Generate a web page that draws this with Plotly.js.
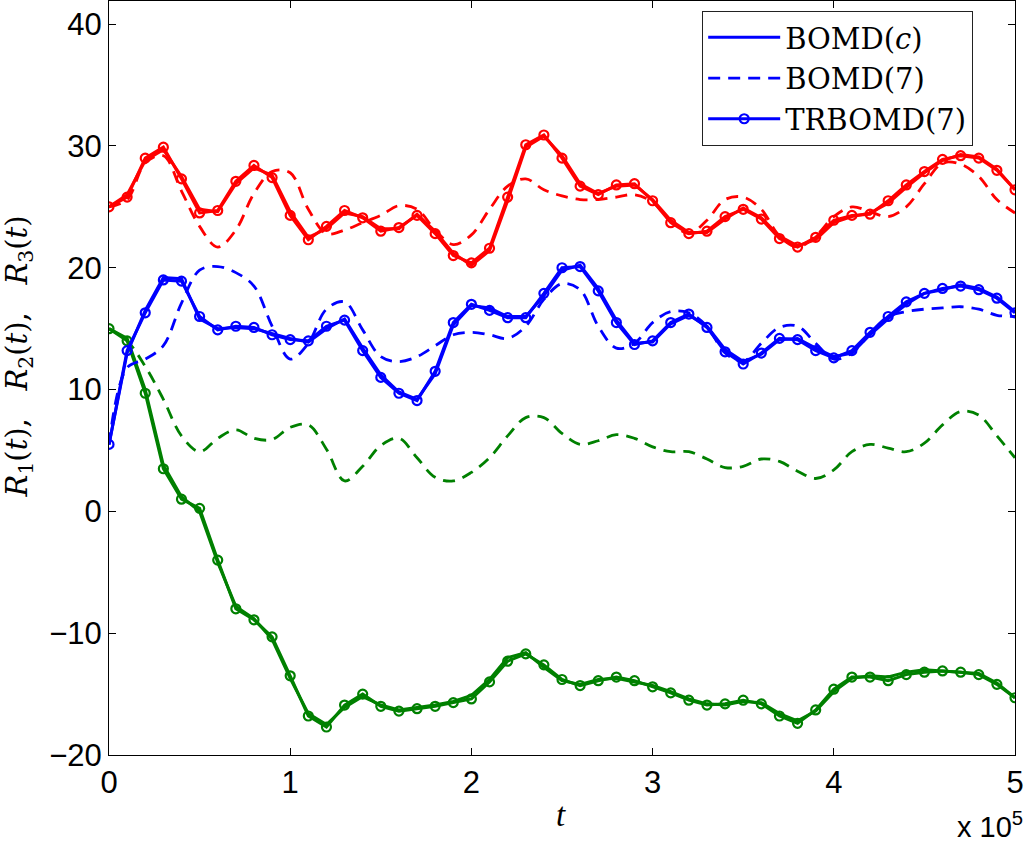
<!DOCTYPE html>
<html>
<head>
<meta charset="utf-8">
<script src="https://cdn.plot.ly/plotly-3.0.1.min.js"></script>
<style>html,body{margin:0;padding:0;background:#fff;}#chart{width:1024px;height:846px;}</style>
</head>
<body>
<div id="chart"></div>
<script>
// time in units of 10^5
const t = [0.0,0.1,0.2,0.3,0.4,0.5,0.6,0.7,0.8,0.9,1.0,1.1,1.2,1.3,1.4,1.5,1.6,1.7,1.8,1.9,2.0,2.1,2.2,2.3,2.4,2.5,2.6,2.7,2.8,2.9,3.0,3.1,3.2,3.3,3.4,3.5,3.6,3.7,3.8,3.9,4.0,4.1,4.2,4.3,4.4,4.5,4.6,4.7,4.8,4.9,5.0];

// R1 (red)
const r1_bomdc = [25.0,26.0,28.8,29.7,27.5,24.8,24.6,26.9,28.2,27.6,24.6,22.5,23.2,24.5,24.2,23.2,23.2,24.4,23.0,21.2,20.2,21.4,25.5,29.9,30.8,29.2,26.9,26.1,26.7,26.8,25.6,23.9,22.9,22.9,24.0,24.9,24.1,22.6,21.8,22.3,23.7,24.2,24.5,25.3,26.6,27.8,28.8,29.3,29.1,28.1,26.4];
const r1_bomd7 = [25.0,25.6,28.6,29.2,26.3,23.4,21.7,23.1,26.1,27.9,27.8,24.8,22.8,23.1,23.7,24.3,25.1,24.8,23.1,21.9,22.7,24.8,26.7,27.3,26.4,25.9,25.6,25.6,25.8,26.0,25.4,23.8,22.8,23.9,25.6,25.8,24.8,22.6,21.7,22.6,24.2,25.0,24.6,24.2,25.0,26.9,28.6,28.5,27.5,25.6,24.5];
const r1_trbomd7 = [25.0,25.8,29.0,29.9,27.3,24.5,24.7,27.1,28.4,27.4,24.3,22.3,23.4,24.7,24.1,23.0,23.3,24.3,22.8,21.0,20.4,21.6,25.8,30.1,30.9,29.0,26.7,26.0,26.8,26.9,25.5,23.7,22.8,23.0,24.2,24.8,24.0,22.4,21.7,22.5,23.9,24.3,24.4,25.5,26.8,27.9,28.9,29.2,29.0,28.0,26.4];

// R2 (blue)
const r2_bomdc = [5.5,13.0,16.5,19.2,19.1,15.8,15.0,15.1,15.0,14.6,14.2,13.9,15.0,15.8,13.4,11.2,9.8,9.2,11.3,15.3,16.9,16.7,16.0,16.0,17.7,19.8,20.2,18.3,15.7,13.8,13.9,15.4,16.1,15.2,13.3,12.3,12.9,14.1,14.2,13.4,12.7,13.0,14.5,15.8,17.0,17.9,18.2,18.6,18.3,17.6,16.4];
const r2_bomd7 = [5.5,11.8,12.5,13.6,17.1,19.8,20.1,19.6,18.5,15.2,12.5,13.8,16.6,17.2,14.9,12.7,12.3,12.7,13.6,14.5,14.7,14.5,14.2,15.2,17.4,18.7,18.2,15.2,13.4,13.8,15.5,16.4,16.3,15.2,13.0,12.3,13.8,15.1,15.2,13.8,12.5,13.0,14.6,16.0,16.4,16.6,16.7,16.8,16.6,16.1,16.0];
const r2_trbomd7 = [5.5,13.2,16.3,19.0,18.9,16.0,14.9,15.2,15.1,14.5,14.1,14.0,15.2,15.7,13.2,11.0,9.7,9.1,11.5,15.5,17.0,16.5,15.9,15.9,17.9,20.0,20.1,18.1,15.5,13.7,14.0,15.5,16.2,15.1,13.1,12.1,13.0,14.2,14.1,13.2,12.6,13.2,14.7,16.0,17.2,17.9,18.3,18.5,18.2,17.5,16.3];

// R3 (green)
const r3_bomdc = [15.0,14.2,10.0,3.8,1.2,0.0,-4.2,-7.8,-8.8,-10.5,-13.7,-16.6,-17.5,-16.1,-15.2,-15.9,-16.3,-16.1,-15.9,-15.6,-15.1,-13.8,-12.0,-11.6,-12.8,-13.9,-14.2,-13.8,-13.7,-14.0,-14.3,-14.8,-15.4,-15.8,-15.9,-15.6,-15.7,-16.6,-17.2,-16.4,-14.8,-13.7,-13.5,-13.6,-13.2,-13.0,-13.1,-13.2,-13.3,-14.1,-15.3];
const r3_bomd7 = [15.0,14.0,11.9,9.2,6.2,4.9,6.0,6.7,6.0,5.9,6.9,7.1,5.1,2.5,3.7,5.4,6.0,4.4,2.8,2.5,3.2,4.4,6.2,7.7,7.7,6.4,5.5,5.8,6.3,6.0,5.3,4.9,4.9,4.3,3.6,3.7,4.3,4.1,3.3,2.7,3.4,4.9,5.5,5.2,4.9,5.6,7.1,8.2,7.9,6.2,4.4];
const r3_trbomd7 = [15.0,14.0,9.7,3.5,1.0,0.25,-4.0,-8.0,-8.9,-10.3,-13.5,-16.8,-17.7,-15.9,-15.0,-16.0,-16.4,-16.2,-16.0,-15.7,-15.4,-14.0,-12.3,-11.7,-12.6,-13.8,-14.3,-13.9,-13.6,-13.9,-14.4,-14.9,-15.5,-15.9,-15.8,-15.5,-15.8,-16.8,-17.4,-16.3,-14.6,-13.6,-13.6,-13.9,-13.4,-13.2,-13.1,-13.2,-13.4,-14.2,-15.3];

const legendNames = ['BOMD(<i>c</i>)', 'BOMD(7)', 'TRBOMD(7)'];
const xTickVals = [0,1,2,3,4,5];
const yTickVals = [-20,-10,0,10,20,30,40];
const xTitle = '<i>t</i>';
const yTitle = '<i>R</i><sub>1</sub>(<i>t</i>),&nbsp;&nbsp; <i>R</i><sub>2</sub>(<i>t</i>),&nbsp;&nbsp; <i>R</i><sub>3</sub>(<i>t</i>)';

const colors = {r1: '#ff0000', r2: '#0000ff', r3: '#008000'};
const groups = [
  {key: 'r1', c: r1_bomdc, d: r1_bomd7, m: r1_trbomd7, legend: false},
  {key: 'r3', c: r3_bomdc, d: r3_bomd7, m: r3_trbomd7, legend: false},
  {key: 'r2', c: r2_bomdc, d: r2_bomd7, m: r2_trbomd7, legend: true}
];

const traces = [];
groups.forEach(g => {
  const col = colors[g.key];
  traces.push({x: t, y: g.d, type: 'scatter', mode: 'lines', name: legendNames[1],
    showlegend: g.legend, legendrank: 2,
    line: {color: col, width: 2.8, dash: '12px,8px', shape: 'spline', smoothing: 1}});
  traces.push({x: t, y: g.c, type: 'scatter', mode: 'lines', name: legendNames[0],
    showlegend: g.legend, legendrank: 1,
    line: {color: col, width: 3}});
  traces.push({x: t, y: g.m, type: 'scatter', mode: 'lines+markers', name: legendNames[2],
    showlegend: g.legend, legendrank: 3,
    line: {color: col, width: 3},
    marker: {symbol: 'circle-open', size: 9, color: col, line: {color: col, width: 2.2}}});
});

const tickFont = {family: 'Liberation Sans, Arial, sans-serif', size: 31, color: '#000'};
const serif = 'DejaVu Serif, Liberation Serif, serif';

const layout = {
  width: 1024, height: 846,
  margin: {l: 109, r: 9, t: 1, b: 91, pad: 0},
  paper_bgcolor: '#fff', plot_bgcolor: '#fff',
  showlegend: true,
  legend: {
    x: 0.6545, y: 0.987, xanchor: 'left', yanchor: 'top',
    bgcolor: '#fff', bordercolor: '#222', borderwidth: 1.2,
    font: {family: serif, size: 29, color: '#000'},
    traceorder: 'normal', itemwidth: 72, tracegroupgap: 0
  },
  xaxis: {
    range: [0, 5], tickvals: xTickVals, ticktext: xTickVals.map(String),
    showline: true, linecolor: '#000', linewidth: 1, mirror: 'allticks',
    ticks: 'inside', ticklen: 7, tickcolor: '#000', tickwidth: 1,
    showgrid: false, zeroline: false, tickfont: tickFont
  },
  yaxis: {
    range: [-20, 41.9], tickvals: yTickVals,
    showline: true, linecolor: '#000', linewidth: 1, mirror: 'allticks',
    ticks: 'inside', ticklen: 7, tickcolor: '#000', tickwidth: 1,
    showgrid: false, zeroline: false, tickfont: tickFont
  },
  annotations: [{
    xref: 'paper', yref: 'paper', x: -0.099, y: 0.529, xanchor: 'center', yanchor: 'middle',
    textangle: -90, text: yTitle, showarrow: false,
    font: {family: serif, size: 29, color: '#000'}
  }, {
    xref: 'paper', yref: 'paper', x: 0.499, y: -0.0796, xanchor: 'center', yanchor: 'middle',
    text: xTitle, showarrow: false,
    font: {family: 'Liberation Serif, serif', size: 33, color: '#000'}
  }, {
    xref: 'paper', yref: 'paper', x: 1.011, y: -0.1195, xanchor: 'right', yanchor: 'bottom',
    text: 'x&nbsp;10<sup>5</sup>', showarrow: false,
    font: {family: 'Liberation Sans, Arial, sans-serif', size: 29, color: '#000'}
  }]
};

Plotly.newPlot('chart', traces, layout, {displayModeBar: false, staticPlot: true});
</script>
</body>
</html>
